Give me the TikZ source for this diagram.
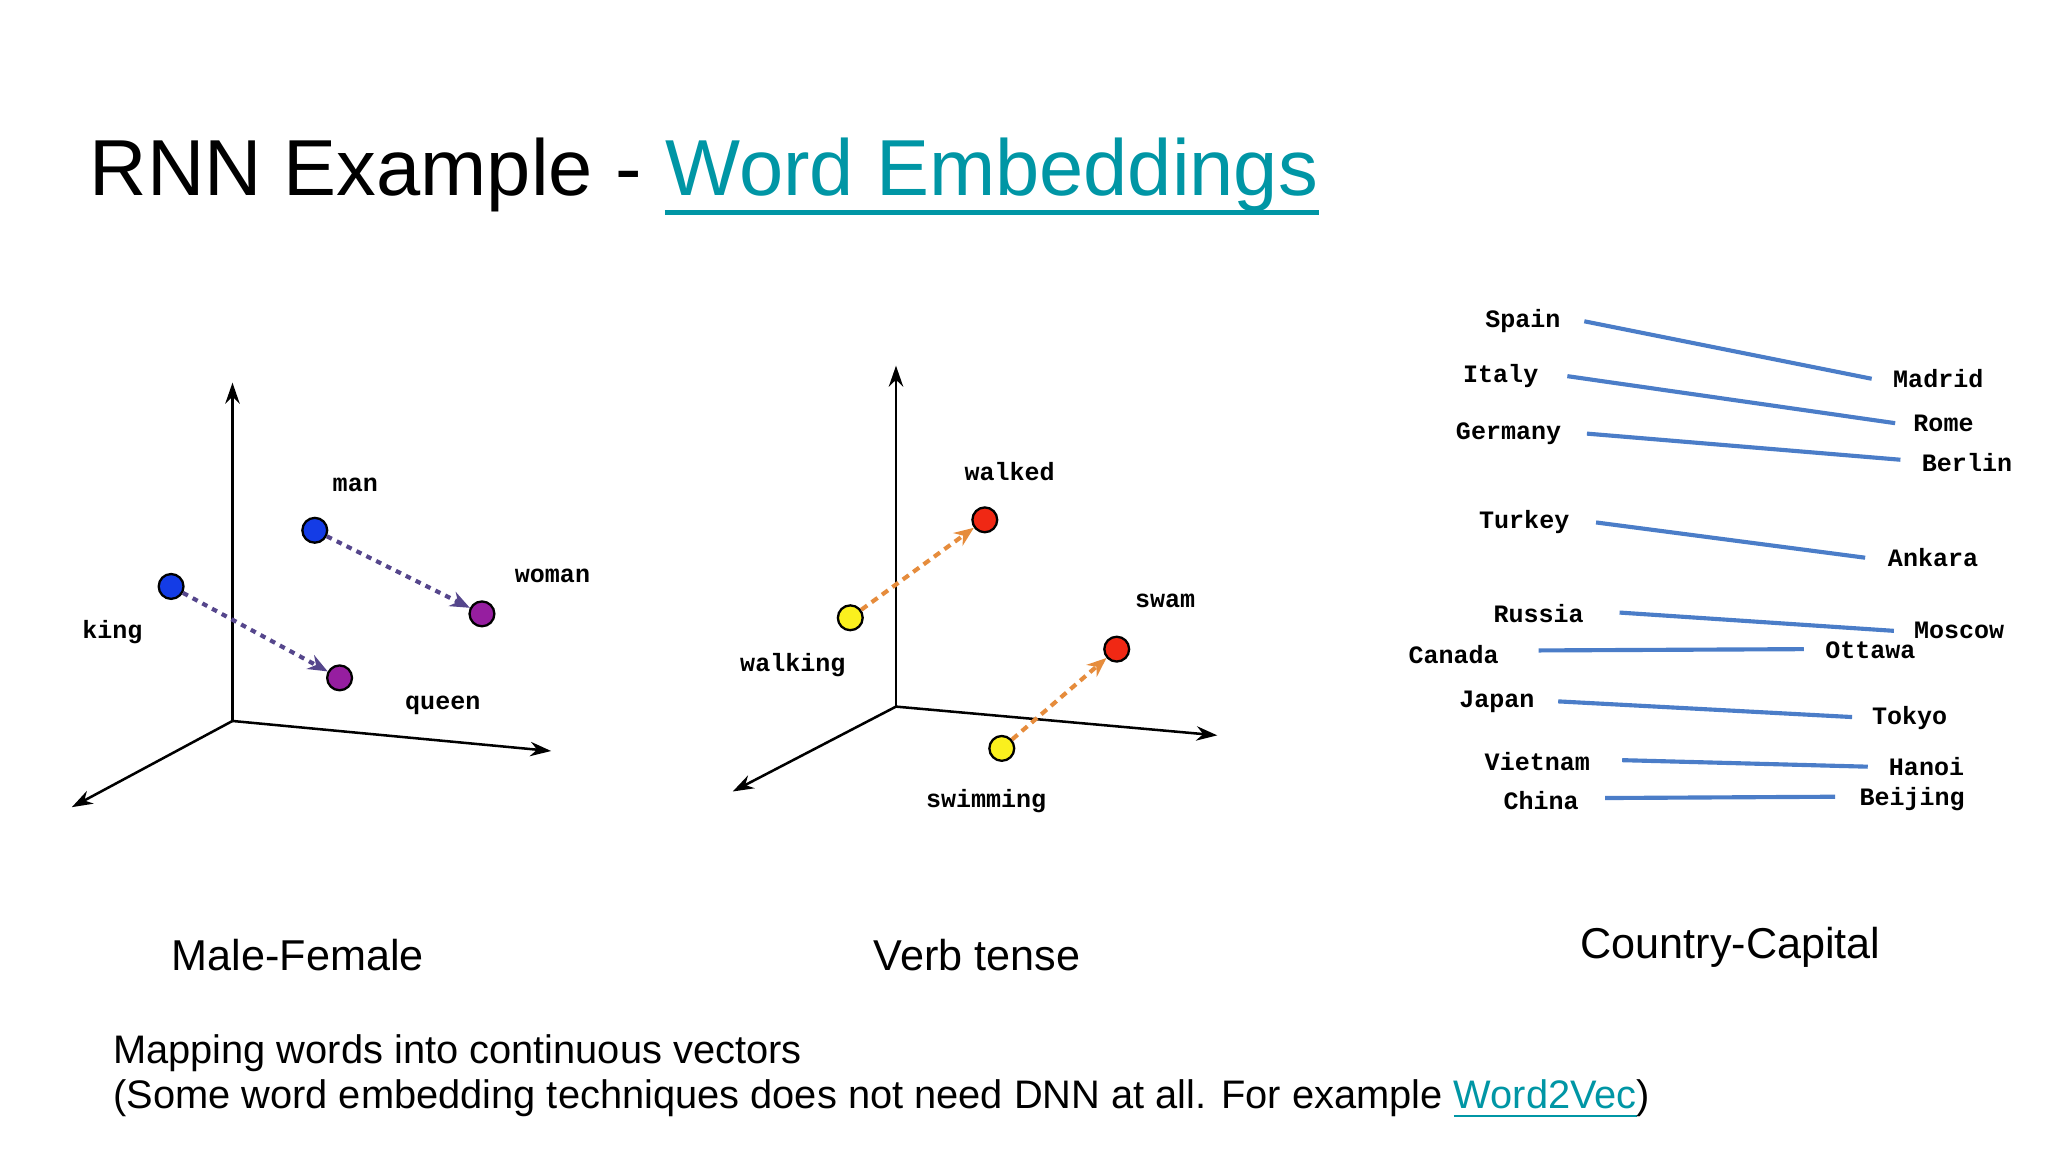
\documentclass[tikz,border=0pt]{standalone}
\usepackage{fontspec}
\setmainfont{Liberation Sans}
\newfontfamily\monof{Liberation Mono}
\usetikzlibrary{arrows.meta}
\definecolor{teal1}{RGB}{0,150,165}
\definecolor{dotpur}{RGB}{85,70,140}
\definecolor{dotor}{RGB}{230,140,60}
\definecolor{lnblue}{RGB}{75,125,200}
\definecolor{ptblue}{RGB}{20,60,230}
\definecolor{ptpur}{RGB}{150,30,160}
\definecolor{ptred}{RGB}{240,40,20}
\definecolor{ptyel}{RGB}{250,240,30}
\tikzset{
 lbl/.style={font=\monof\bfseries\fontsize{5.45}{6}\selectfont, inner sep=0pt},
 pt/.style={circle, draw=black, line width=0.5pt, minimum size=0.19cm, inner sep=0pt, fill=#1},
 ax/.style={-{Stealth[length=1.6mm,width=1.1mm]}, line width=0.55pt},
 vecp/.style={-{Stealth[length=1.5mm,width=1.2mm]}, dotpur, line width=0.9pt, dash pattern=on 1.2pt off 1.2pt},
 veco/.style={-{Stealth[length=1.5mm,width=1.2mm]}, dotor, line width=0.9pt, dash pattern=on 1.6pt off 1.2pt},
 capline/.style={lnblue, line width=0.9pt},
 sub/.style={font=\fontsize{9.4}{11}\selectfont, inner sep=0pt},
}
\begin{document}
\begin{tikzpicture}[x=0.01cm,y=-0.01cm]
\useasboundingbox[fill=white] (0,0) rectangle (1568,882);
\node[anchor=base west, inner sep=0pt, font=\fontsize{17.3}{20}\selectfont] (title) at (68,150)
 {RNN Example -};
\node[anchor=base west, inner sep=0pt, font=\fontsize{17.3}{20}\selectfont, text=teal1] (link) at ([xshift=0.17cm]title.base east) {Word Embeddings};
\draw[teal1, line width=1.1pt] ([yshift=-1.3mm]link.base west) -- ([yshift=-1.3mm]link.base east);
% panel 1
\coordinate (o1) at (178,552);
\coordinate (u1) at (178,293);
\coordinate (r1) at (422,575);
\coordinate (l1) at (55,618);
\draw[ax] (o1) -- (u1); \draw[ax] (o1) -- (r1); \draw[ax] (o1) -- (l1);
\node[pt=ptblue] (king) at (131,449) {};
\node[pt=ptblue] (man) at (241,406) {};
\node[pt=ptpur] (woman) at (369,470) {};
\node[pt=ptpur] (queen) at (260,519) {};
\draw[vecp] (king) -- (queen);
\draw[vecp] (man) -- (woman);
\node[lbl] (lking) at (86,484) {king};
\node[lbl] (lman) at (272,371) {man};
\node[lbl] (lwoman) at (423,441) {woman};
\node[lbl] (lqueen) at (339,540) {queen};
\node[sub] (s1) at (228,731) {Male-Female};
% panel 2
\coordinate (o2) at (686,541);
\coordinate (u2) at (686,280);
\coordinate (r2) at (932,563);
\coordinate (l2) at (561,606);
\draw[ax] (o2) -- (u2); \draw[ax] (o2) -- (r2); \draw[ax] (o2) -- (l2);
\node[pt=ptyel] (walking) at (651,473) {};
\node[pt=ptred] (walked) at (754,398) {};
\node[pt=ptyel] (swimming) at (767,573) {};
\node[pt=ptred] (swam) at (855,497) {};
\draw[veco] (walking) -- (walked);
\draw[veco] (swimming) -- (swam);
\node[lbl] (lwalked) at (773,361) {walked};
\node[lbl] (lwalking) at (607,509) {walking};
\node[lbl] (lswam) at (892,460) {swam};
\node[lbl] (lswimming) at (755,613) {swimming};
\node[sub] (s2) at (748,731) {Verb tense};
% panel 3
\foreach \c/\cx/\cy/\ax/\ay/\bx/\by/\k/\kx/\ky in {
 Spain/1166/246/1213/246/1433/290/Madrid/1484/290,
 Italy/1149/288/1200/288/1451/324/Rome/1488/324,
 Germany/1155/332/1215/332/1455/352/Berlin/1506/354,
 Turkey/1167/400/1222/400/1428/427/Ankara/1480/427,
 Russia/1178/470/1240/469/1450/483/Moscow/1500/483,
 Canada/1113/501/1178/498/1381/497/Ottawa/1432/498,
 Japan/1146/537/1193/537/1418/549/Tokyo/1462/550,
 Vietnam/1177/583/1242/582/1430/587/Hanoi/1475/587,
 China/1180/613/1229/611/1405/610/Beijing/1464/612}{
 \node[lbl] (n\c) at (\cx,\cy) {\c};
 \node[lbl] (n\k) at (\kx,\ky) {\k};
 \coordinate (a\c) at (\ax,\ay);
 \coordinate (b\c) at (\bx,\by);
 \draw[capline] (a\c) -- (b\c);
}
\node[sub] (s3) at (1325,725) {Country-Capital};
% bottom text
\node[anchor=base west, inner sep=0pt, font=\fontsize{8.67}{10}\selectfont] (t1) at (86,814) {Mapping words into continuous vectors};
\node[anchor=base west, inner sep=0pt, font=\fontsize{8.67}{10}\selectfont] (t2) at (86,849) {(Some word embedding techniques does not need DNN at all. For example \textcolor{teal1}{\underline{Word2Vec}})};
\end{tikzpicture}
\end{document}
